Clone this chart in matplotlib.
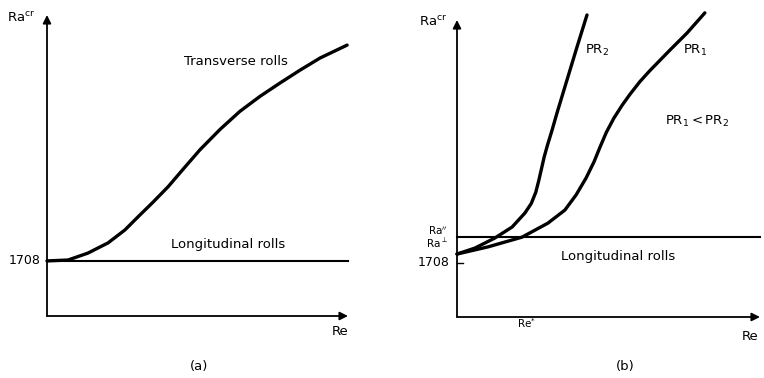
import matplotlib
matplotlib.use('Agg')
import matplotlib.pyplot as plt

# panel (a): arbitrary units, Re 0..10, Ra 0..10
re_a = [0, 0.70, 1.36, 2.03, 2.59, 3.02, 3.49, 4.02, 4.55, 5.08, 5.75, 6.41, 7.08, 7.74, 8.41, 9.07, 9.97]
ra_trans = [1.83, 1.86, 2.09, 2.43, 2.86, 3.29, 3.75, 4.29, 4.91, 5.52, 6.20, 6.80, 7.30, 7.74, 8.17, 8.57, 9.00]
ra_1708_a = 1.83

# panel (b)
re_pr2 = [0, 0.59, 1.25, 1.82, 2.24, 2.45, 2.60, 2.70, 2.79, 2.88, 2.99, 3.14, 3.30, 3.63, 3.96, 4.29]
ra_pr2 = [2.12, 2.32, 2.66, 3.03, 3.50, 3.82, 4.20, 4.60, 5.00, 5.40, 5.80, 6.30, 6.87, 7.98, 9.09, 10.17]
re_pr1 = [0, 1.02, 2.15, 3.00, 3.56, 3.93, 4.26, 4.52, 4.72, 4.93, 5.18, 5.45, 5.71, 6.04, 6.37, 7.03, 7.59, 8.18]
ra_pr1 = [2.12, 2.36, 2.69, 3.16, 3.60, 4.11, 4.68, 5.22, 5.72, 6.22, 6.70, 7.13, 7.50, 7.93, 8.30, 8.99, 9.56, 10.24]
ra_par = 2.69
ra_1708_b = 1.82

fs = 9.5
fig = plt.figure(figsize=(7.64, 3.78), dpi=100)


def axes_arrows(ax, xend, yend):
    ax.set_xlim(0, 10)
    ax.set_ylim(0, 10)
    ax.axis('off')
    ax.annotate('', xy=(xend, 0), xytext=(0, 0), annotation_clip=False,
                arrowprops=dict(arrowstyle='-|>', color='black', lw=1.3,
                                mutation_scale=12, shrinkA=0, shrinkB=0))
    ax.annotate('', xy=(0, yend), xytext=(0, 0), annotation_clip=False,
                arrowprops=dict(arrowstyle='-|>', color='black', lw=1.3,
                                mutation_scale=12, shrinkA=0, shrinkB=0))


curve = dict(color='black', lw=2.4, clip_on=False, solid_capstyle='round', solid_joinstyle='round')

# (a)
ax1 = fig.add_axes([47 / 764, 62 / 378, 301 / 764, 301 / 378])
axes_arrows(ax1, 10, 10)
ax1.plot([0, 10], [ra_1708_a, ra_1708_a], color='black', lw=1.5, clip_on=False)
ax1.plot(re_a, ra_trans, **curve)
ax1.text(-0.4, 9.9, r'Ra$^{\mathrm{cr}}$', ha='right', va='center', fontsize=fs)
ax1.text(-0.23, ra_1708_a, '1708', ha='right', va='center', fontsize=9)
ax1.text(6.28, 8.47, 'Transverse rolls', ha='center', va='center', fontsize=fs)
ax1.text(6.01, 2.36, 'Longitudinal rolls', ha='center', va='center', fontsize=fs)
ax1.text(9.73, -0.5, 'Re', ha='center', va='center', fontsize=fs)
ax1.text(5.05, -1.69, '(a)', ha='center', va='center', fontsize=fs)

# (b)
ax2 = fig.add_axes([457 / 764, 61 / 378, 303 / 764, 297 / 378])
axes_arrows(ax2, 10, 10)
ax2.plot([0, 10], [ra_par, ra_par], color='black', lw=1.5, clip_on=False)
ax2.plot([0, 0.2], [ra_1708_b, ra_1708_b], color='black', lw=1.0, clip_on=False)
ax2.plot(re_pr2, ra_pr2, **curve)
ax2.plot(re_pr1, ra_pr1, **curve)
ax2.text(-0.33, 9.93, r'Ra$^{\mathrm{cr}}$', ha='right', va='center', fontsize=fs)
ax2.text(-0.3, 2.9, r'Ra$^{\prime\prime}$', ha='right', va='center', fontsize=7.5)
ax2.text(-0.3, 2.47, r'Ra$^{\perp}$', ha='right', va='center', fontsize=7.5)
ax2.text(-0.23, ra_1708_b, '1708', ha='right', va='center', fontsize=9)
ax2.text(2.31, -0.2, r'Re$^{*}$', ha='center', va='center', fontsize=7.5)
ax2.text(9.67, -0.64, 'Re', ha='center', va='center', fontsize=fs)
ax2.text(5.54, -1.68, '(b)', ha='center', va='center', fontsize=fs)
ax2.text(5.31, 2.05, 'Longitudinal rolls', ha='center', va='center', fontsize=fs)
ax2.text(4.62, 8.99, r'PR$_2$', ha='center', va='center', fontsize=fs)
ax2.text(7.85, 8.96, r'PR$_1$', ha='center', va='center', fontsize=fs)
ax2.text(7.92, 6.57, r'PR$_1$$<$PR$_2$', ha='center', va='center', fontsize=fs)

fig.savefig('out.png', dpi=100)
